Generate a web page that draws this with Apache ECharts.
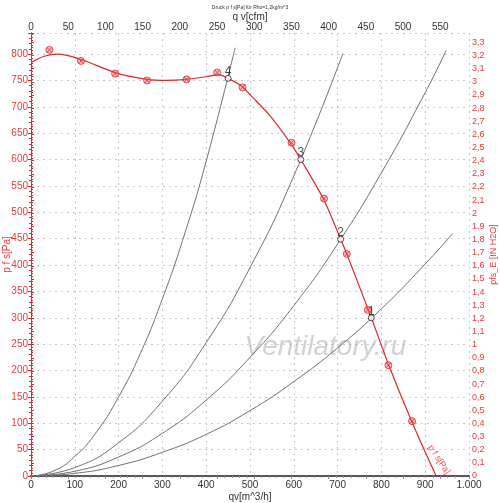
<!DOCTYPE html>
<html>
<head>
<meta charset="utf-8">
<script src="https://cdn.jsdelivr.net/npm/echarts@6/dist/echarts.min.js"></script>
<style>
  html, body { margin: 0; padding: 0; background: #fff; }
  #chart { width: 500px; height: 503px; }
</style>
</head>
<body>
<div id="chart"></div>
<script>
// fan curve p f s [Pa] over qv [m^3/h]
const fanCurve = [
  [0, 784], [30, 796], [62, 800], [114, 790], [192, 765], [265, 752],
  [310, 750], [355, 752], [400, 757], [428, 761], [450, 754], [483, 738],
  [500, 723], [546, 683], [595, 628], [616, 600], [669, 523], [707, 449],
  [721, 421], [777, 300], [816, 212], [870, 102], [925, 0]
]
// measured points (red markers)
const fanMeasured = [
  [42, 808], [114, 787], [192, 763], [265, 750], [355, 752], [425, 765],
  [483, 737], [595, 632], [669, 526], [721, 421], [769, 315], [816, 210],
  [870, 104]
]
// operating points and their numbers
const opPoints = [[777, 300], [707, 449], [616, 600], [450, 754]]
const opLabels = ['1', '2', '3', '4']
const fanEnd = [[925, 0]]

// system curves (gray)
const systemCurve1 = [[0, 0], [100, 5], [200, 20], [300, 45], [400, 79], [500, 124],
  [600, 179], [700, 243], [800, 317], [900, 402], [963, 460]]
const systemCurve2 = [[0, 0], [100, 9], [200, 36], [300, 81], [400, 144], [500, 225],
  [600, 323], [700, 440], [800, 575], [900, 727], [948, 807]]
const systemCurve3 = [[0, 0], [100, 16], [200, 63], [300, 142], [400, 253], [500, 395],
  [600, 569], [712, 801]]
const systemCurve4 = [[0, 0], [50, 9], [100, 37], [150, 84], [200, 150], [250, 233],
  [300, 336], [350, 457], [400, 597], [466, 812]]

const qMax = 1000          // m^3/h
const cfmMax = 588.6       // 1000 m^3/h in cfm
const pMax = 840           // Pa
const inH2OMax = 3.372     // 840 Pa in in H2O

const red = '#e3262b'
const redText = '#e8393d'
const gray = '#707070'
const font = 'Liberation Sans'

const chart = echarts.init(document.getElementById('chart'))

const sysLine = data => ({
  type: 'line', data: data, smooth: true, showSymbol: false,
  xAxisIndex: 0, yAxisIndex: 0, silent: true,
  lineStyle: { color: gray, width: 1 }, z: 2
})

chart.setOption({
  animation: false,
  textStyle: { fontFamily: font },
  title: {
    text: 'Druck p f s[Pa] für Rho=1,2kg/m^3',
    left: 'center', top: 0,
    textStyle: { fontSize: 5, fontWeight: 'normal', color: '#333', fontFamily: font }
  },
  grid: { left: 31, right: 31, top: 33, bottom: 27, containLabel: false,
    outerBoundsMode: 'none' },
  xAxis: [{
    type: 'value', position: 'bottom', min: 0, max: qMax, interval: 100,
    name: 'qv[m^3/h]', nameLocation: 'middle', nameGap: 16, nameMoveOverlap: false,
    nameTextStyle: { fontSize: 10, color: '#333' },
    axisLine: { lineStyle: { color: '#555', width: 2 } },
    axisTick: { show: false },
    axisLabel: { fontSize: 10, color: '#333', margin: 4,
      formatter: v => v === 1000 ? '1.000' : String(v) },
    splitLine: { show: true, lineStyle: { color: '#c8c8c8', type: [2, 4] } }
  }, {
    type: 'value', position: 'top', min: 0, max: cfmMax, interval: 50,
    name: 'q v[cfm]', nameLocation: 'middle', nameGap: 11, nameMoveOverlap: false,
    nameTextStyle: { fontSize: 10, color: '#333' },
    axisLine: { lineStyle: { color: '#555', width: 2 } },
    axisTick: { show: true, inside: true, length: 3, lineStyle: { color: '#888' } },
    minorTick: { show: true, splitNumber: 5, length: 2, lineStyle: { color: '#999' } },
    axisLabel: { fontSize: 10, color: '#333', margin: 1, showMaxLabel: false },
    splitLine: { show: false }
  }],
  yAxis: [{
    type: 'value', position: 'left', min: 0, max: pMax, interval: 50,
    name: 'p f s[Pa]', nameLocation: 'middle', nameGap: 19, nameRotate: 90,
    nameMoveOverlap: false,
    nameTextStyle: { fontSize: 10, color: redText },
    axisLine: { show: true, lineStyle: { color: red, width: 1 } },
    axisTick: { show: true, length: 3, lineStyle: { color: red } },
    minorTick: { show: true, splitNumber: 5, length: 2, lineStyle: { color: red } },
    axisLabel: { fontSize: 10, color: redText, margin: 3, showMaxLabel: false },
    splitLine: { show: true, lineStyle: { color: '#c8c8c8', type: [2, 4] } }
  }, {
    type: 'value', position: 'right', min: 0, max: inH2OMax, interval: 0.1,
    name: 'pfs_E [IN H2O]', nameLocation: 'middle', nameGap: 20, nameRotate: 90,
    nameMoveOverlap: false,
    nameTextStyle: { fontSize: 9, color: redText },
    axisLine: { show: true, lineStyle: { color: red, width: 1 } },
    axisTick: { show: true, length: 3, lineStyle: { color: red } },
    minorTick: { show: true, splitNumber: 5, length: 2, lineStyle: { color: red } },
    axisLabel: { fontSize: 9, color: redText, margin: 3, showMaxLabel: false,
      formatter: v => String(Math.round(v * 10) / 10).replace('.', ',') },
    splitLine: { show: false }
  }],
  graphic: [{
    type: 'text', left: 244, top: 333, silent: true, z: 1,
    style: {
      text: 'Ventilatory.ru',
      font: 'italic 28px "Liberation Sans"',
      fill: 'rgba(120,120,120,0.34)',
      stroke: 'rgba(255,255,255,0.7)', lineWidth: 1
    }
  }],
  series: [
    sysLine(systemCurve1),
    sysLine(systemCurve2),
    sysLine(systemCurve3),
    sysLine(systemCurve4),
    {
      type: 'line', smooth: 0.3, showSymbol: false,
      xAxisIndex: 0, yAxisIndex: 0, z: 3,
      lineStyle: { color: red, width: 1.2 },
      data: fanCurve
    },
    {
      type: 'scatter', xAxisIndex: 0, yAxisIndex: 0, z: 4,
      symbol: 'path://M0,-5A5,5 0 1,1 0,5A5,5 0 1,1 0,-5ZM-3.5,-3.5L3.5,3.5M3.5,-3.5L-3.5,3.5',
      symbolSize: 7,
      itemStyle: { color: 'rgba(240,130,130,0.6)', borderColor: red, borderWidth: 1 },
      data: fanMeasured
    },
    {
      type: 'scatter', xAxisIndex: 0, yAxisIndex: 0, z: 5,
      symbol: 'circle', symbolSize: 6,
      itemStyle: { color: '#fff', borderColor: '#222', borderWidth: 1 },
      label: { show: true, position: 'top', distance: -3, fontSize: 12, color: '#222',
        formatter: p => opLabels[p.dataIndex] },
      data: opPoints
    },
    {
      type: 'scatter', xAxisIndex: 0, yAxisIndex: 0, z: 6, silent: true,
      symbol: 'circle', symbolSize: 2,
      itemStyle: { color: 'rgba(0,0,0,0)' },
      label: { show: true, formatter: 'p f s[Pa]', color: red, fontSize: 9,
        rotate: -57, position: [9, 1], align: 'right', verticalAlign: 'bottom' },
      data: fanEnd
    }
  ]
})
</script>
</body>
</html>
